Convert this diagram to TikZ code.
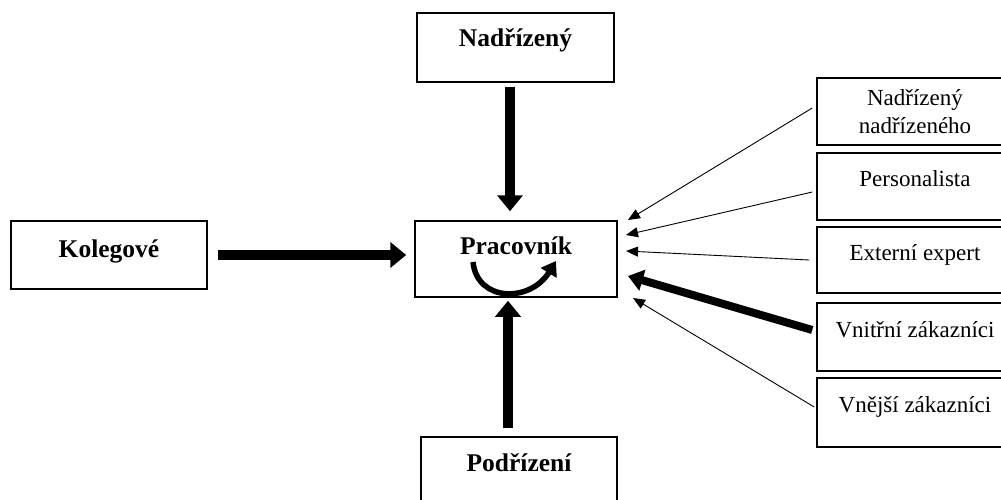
\documentclass[tikz,border=0pt]{standalone}
\usepackage{fontspec}
\setmainfont{Liberation Serif}
\usetikzlibrary{arrows.meta,calc}
\begin{document}
\begin{tikzpicture}[x=1pt,y=-1pt,
  bx/.style={draw, line width=1.5pt, inner sep=0pt, anchor=base},
  bold/.style={font=\fontsize{25.5}{30}\selectfont\bfseries},
  reg/.style={font=\fontsize{23}{28}\selectfont},
  fat/.style={line width=10pt, -{Triangle[width=25pt,length=16pt]}},
  wide/.style={line width=8pt, -{Triangle[width=21pt,length=15pt]}},
  thin/.style={line width=0.9pt, -{Triangle[width=10pt,length=12pt]}},
]
\useasboundingbox (0,0) rectangle (1001,500);
\clip (0,0) rectangle (1001,500);

% left / centre boxes
\node[bx,bold,minimum width=197pt,text height=34pt,text depth=35pt] (nad) at (515.5,47) {Nadřízený};
\node[bx,bold,minimum width=196pt,text height=36pt,text depth=32pt] (kol) at (109,257) {Kolegové};
\node[bx,bold,minimum width=202pt,text height=33pt,text depth=43pt] (prac) at (516,254) {Pracovník};
\node[bx,bold,minimum width=196pt,text height=34pt,text depth=45pt] (pod) at (519,471) {Podřízení};

% right boxes
\node[draw,line width=1.5pt,inner sep=0pt,reg,align=center,minimum width=196pt,minimum height=67pt] (r1) at (915,111.5) {Nadřízený\\nadřízeného};
\node[bx,reg,minimum width=196pt,text height=33pt,text depth=34pt] (r2) at (915,186) {Personalista};
\node[bx,reg,minimum width=196pt,text height=33pt,text depth=33pt] (r3) at (915,260) {Externí expert};
\node[bx,reg,minimum width=196pt,text height=34pt,text depth=34pt] (r4) at (915,337) {Vnitřní zákazníci};
\node[bx,reg,minimum width=196pt,text height=34pt,text depth=35pt] (r5) at (915,412) {Vnější zákazníci};

% thick arrows
\coordinate (ct) at (510,0);
\coordinate (cb) at (508,0);
\draw[fat, shorten <=4pt, shorten >=9pt] (nad.south -| ct) -- (prac.north -| ct);
\draw[fat, shorten <=10pt, shorten >=8pt] (kol.east) -- (kol.east -| prac.west);
\draw[fat, shorten <=8pt, shorten >=3pt] (pod.north -| cb) -- (prac.south -| cb);

% arrows from the right
\coordinate (t1) at (628,220);
\coordinate (t2) at (626,235);
\coordinate (t3) at (626,251);
\coordinate (t4) at (628,276);
\coordinate (t5) at (633,298);
\draw[thin] ([shift={(-4,-3.5)}]r1.west) -- (t1);
\draw[thin] ([shift={(-4,5.5)}]r2.west) -- (t2);
\draw[thin] ([shift={(-7,0)}]r3.west) -- (t3);
\draw[wide] ([shift={(-4,-7)}]r4.west) -- (t4);
\draw[thin] ([shift={(-2,-5.5)}]r5.west) -- (t5);

% curved arrow inside Pracovník
\draw[line width=5.5pt,-{Triangle[width=18pt,length=14pt]}] (473,262) .. controls (477,302) and (530,303) .. (556,261);
\end{tikzpicture}
\end{document}
